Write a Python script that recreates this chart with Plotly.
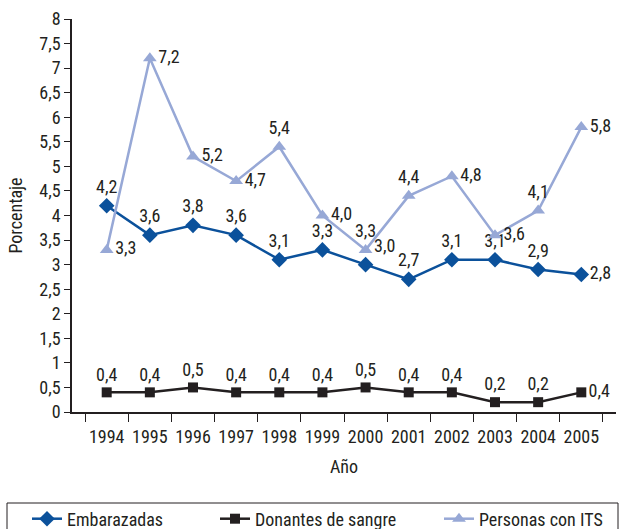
import plotly.graph_objects as go

years = ["1994", "1995", "1996", "1997", "1998", "1999", "2000", "2001", "2002", "2003", "2004", "2005"]
embarazadas = [4.2, 3.6, 3.8, 3.6, 3.1, 3.3, 3.0, 2.7, 3.1, 3.1, 2.9, 2.8]
donantes = [0.4, 0.4, 0.5, 0.4, 0.4, 0.4, 0.5, 0.4, 0.4, 0.2, 0.2, 0.4]
its = [3.3, 7.2, 5.2, 4.7, 5.4, 4.0, 3.3, 4.4, 4.8, 3.6, 4.1, 5.8]
y_ticks = [i * 0.5 for i in range(17)]

pos_emb = ["top center"] * 6 + ["top right"] + ["top center"] * 4 + ["middle right"]
pos_don = ["top center"] * 11 + ["middle right"]
pos_its = ["middle right", "middle right", "middle right", "middle right", "top center",
           "middle right", "top center", "top center", "middle right", "middle right",
           "top center", "middle right"]

FONT = "Roboto Condensed, Arial Narrow, sans-serif"
TXT = dict(family=FONT, size=18, color="#231f20")

fig = go.Figure()
fig.add_trace(go.Scatter(
    x=years, y=embarazadas, name="Embarazadas", mode="lines+markers+text",
    line=dict(color="#0b519b", width=2.5),
    marker=dict(symbol="diamond", size=12, color="#0b519b"),
    texttemplate="%{y:.1f}", textposition=pos_emb, textfont=TXT, cliponaxis=False,
    legend="legend"))
fig.add_trace(go.Scatter(
    x=years, y=donantes, name="Donantes de sangre", mode="lines+markers+text",
    line=dict(color="#231f20", width=2.5),
    marker=dict(symbol="square", size=10, color="#231f20"),
    texttemplate="%{y:.1f}", textposition=pos_don, textfont=TXT, cliponaxis=False,
    legend="legend2"))
fig.add_trace(go.Scatter(
    x=years, y=its, name="Personas con ITS", mode="lines+markers+text",
    line=dict(color="#97a8d6", width=2.5),
    marker=dict(symbol="triangle-up", size=12, color="#97a8d6"),
    texttemplate="%{y:.1f}", textposition=pos_its, textfont=TXT, cliponaxis=False,
    legend="legend3"))

leg_common = dict(orientation="h", xref="container", yref="container", yanchor="middle",
                  y=1 - 519 / 529, xanchor="left", font=TXT, bgcolor="rgba(0,0,0,0)",
                  borderwidth=0)
fig.update_layout(
    width=629, height=529,
    margin=dict(l=72, r=13, t=19, b=117, autoexpand=False),
    paper_bgcolor="white", plot_bgcolor="white",
    separators=",.",
    font=TXT,
    showlegend=True,
    legend=dict(x=27 / 629, **leg_common),
    legend2=dict(x=215 / 629, **leg_common),
    legend3=dict(x=439 / 629, **leg_common),
    shapes=[dict(type="rect", xref="paper", yref="paper",
                 x0=(7 - 72) / 544, x1=(618 - 72) / 544,
                 y0=(412 - 503) / 393, y1=(412 - 550) / 393,
                 line=dict(color="#231f20", width=1), fillcolor="rgba(0,0,0,0)")],
)
fig.update_xaxes(
    type="category", showline=True, linecolor="#231f20", linewidth=1.5,
    ticks="outside", tickson="boundaries", ticklen=8, tickcolor="#231f20",
    showgrid=False, zeroline=False, tickangle=0, ticklabelstandoff=8,
    title=dict(text="Año", font=TXT, standoff=14),
    tickfont=TXT)
fig.update_yaxes(
    range=[0, 8], tickvals=y_ticks, tickformat=".1~f",
    showline=True, linecolor="#231f20", linewidth=1.5,
    ticks="outside", ticklen=6, tickcolor="#231f20",
    showgrid=False, zeroline=False,
    title=dict(text="Porcentaje", font=TXT, standoff=12),
    tickfont=TXT)

fig.write_html("out.html", config={"displayModeBar": False},
               post_script="document.body.style.margin='0';document.body.style.overflow='hidden';")
